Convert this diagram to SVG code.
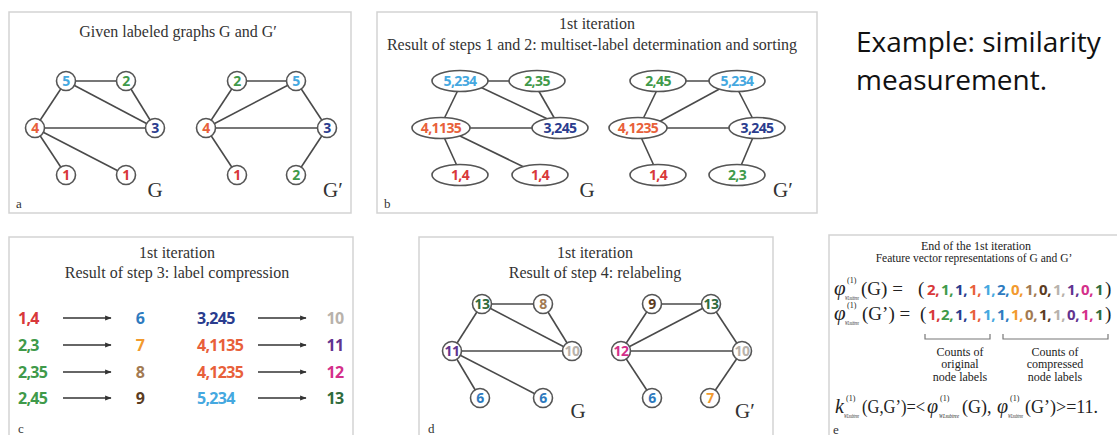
<svg xmlns="http://www.w3.org/2000/svg" width="1117" height="435" viewBox="0 0 1117 435">
  <defs>
    <marker id="arrow" viewBox="0 0 10 10" refX="9" refY="5" markerWidth="5" markerHeight="5" orient="auto">
      <path d="M0,1 L10,5 L0,9 Z" fill="#333"/>
    </marker>
  </defs>
  <style>
    .panel { fill: #fff; stroke: #d3d3d3; stroke-width: 1.5; }
    .title { font-family: "Liberation Serif", serif; font-size: 16px; fill: #333; text-anchor: middle; }
    .gname { font-family: "Liberation Serif", serif; font-size: 21px; fill: #333; text-anchor: middle; }
    .plabel { font-family: "Liberation Serif", serif; font-size: 13px; fill: #333; }
    .edge { stroke: #4a4a4a; stroke-width: 1.6; fill: none; }
    .node circle { fill: #fff; stroke: #555; stroke-width: 1.6; }
    .node ellipse { fill: #fff; stroke: #555; stroke-width: 1.6; }
    .node text, .lbl { font-family: "Open Sans", "Liberation Sans", sans-serif; font-weight: 700; text-anchor: middle; }
    .node text { font-size: 14px; letter-spacing: -0.6px; }
    .lbl { font-size: 16px; letter-spacing: -0.7px; }
    .map { stroke: #333; stroke-width: 1.3; marker-end: url(#arrow); }
    .serif { font-family: "Liberation Serif", serif; fill: #222; }
    .it { font-style: italic; }
    .sub { font-family: "Liberation Serif", serif; font-style: italic; font-size: 6px; fill: #222; }
    .vec { font-family: "Open Sans", "Liberation Sans", sans-serif; font-weight: 700; font-size: 15px; letter-spacing: -0.4px; }
    .big { font-family: "Open Sans", "Noto Sans", sans-serif; font-size: 28px; fill: #111; }
    .c1 { fill: #d8383a; } .c2 { fill: #3f9a4a; } .c3 { fill: #2a3c8e; } .c4 { fill: #e8603a; }
    .c5 { fill: #45a8e0; } .c6 { fill: #2e7bbf; } .c7 { fill: #f29a2e; } .c8 { fill: #a27a52; }
    .c9 { fill: #5b3c1f; } .c10 { fill: #b8b2ab; } .c11 { fill: #61338f; } .c12 { fill: #d42f8a; }
    .c13 { fill: #2f6b3c; }
  </style>

  <rect width="1117" height="435" fill="#fff"/>

  <!-- panel frames -->
  <rect class="panel" x="9" y="12" width="342" height="201"/>
  <rect class="panel" x="377" y="12" width="440" height="201"/>
  <rect class="panel" x="9" y="237" width="344" height="210"/>
  <rect class="panel" x="419" y="237" width="354" height="210"/>
  <rect class="panel" x="829" y="235" width="300" height="212"/>

  <text class="big" x="856" y="52">Example: similarity</text>
  <text class="big" x="856" y="90">measurement.</text>

  <!-- ===== panel a ===== -->
  <text class="title" x="178" y="37">Given labeled graphs G and G′</text>
  <g id="a-edges">
    <line class="edge" x1="66" y1="81" x2="126" y2="81"/>
    <line class="edge" x1="66" y1="81" x2="35" y2="128"/>
    <line class="edge" x1="66" y1="81" x2="155" y2="128"/>
    <line class="edge" x1="126" y1="81" x2="155" y2="128"/>
    <line class="edge" x1="35" y1="128" x2="155" y2="128"/>
    <line class="edge" x1="35" y1="128" x2="66" y2="175"/>
    <line class="edge" x1="35" y1="128" x2="126" y2="175"/>
    <line class="edge" x1="237" y1="81" x2="296" y2="81"/>
    <line class="edge" x1="237" y1="81" x2="206" y2="128"/>
    <line class="edge" x1="296" y1="81" x2="206" y2="128"/>
    <line class="edge" x1="296" y1="81" x2="327" y2="128"/>
    <line class="edge" x1="206" y1="128" x2="327" y2="128"/>
    <line class="edge" x1="206" y1="128" x2="237" y2="175"/>
    <line class="edge" x1="327" y1="128" x2="296" y2="175"/>
  </g>
  <g id="a-G-5" class="node"><circle cx="66" cy="81" r="9.5"/><text x="66" y="86" class="c5">5</text></g>
  <g id="a-G-2" class="node"><circle cx="126" cy="81" r="9.5"/><text x="126" y="86" class="c2">2</text></g>
  <g id="a-G-4" class="node"><circle cx="35" cy="128" r="9.5"/><text x="35" y="133" class="c4">4</text></g>
  <g id="a-G-3" class="node"><circle cx="155" cy="128" r="9.5"/><text x="155" y="133" class="c3">3</text></g>
  <g id="a-G-1a" class="node"><circle cx="66" cy="175" r="9.5"/><text x="66" y="180" class="c1">1</text></g>
  <g id="a-G-1b" class="node"><circle cx="126" cy="175" r="9.5"/><text x="126" y="180" class="c1">1</text></g>
  <g id="a-H-2" class="node"><circle cx="237" cy="81" r="9.5"/><text x="237" y="86" class="c2">2</text></g>
  <g id="a-H-5" class="node"><circle cx="296" cy="81" r="9.5"/><text x="296" y="86" class="c5">5</text></g>
  <g id="a-H-4" class="node"><circle cx="206" cy="128" r="9.5"/><text x="206" y="133" class="c4">4</text></g>
  <g id="a-H-3" class="node"><circle cx="327" cy="128" r="9.5"/><text x="327" y="133" class="c3">3</text></g>
  <g id="a-H-1" class="node"><circle cx="237" cy="175" r="9.5"/><text x="237" y="180" class="c1">1</text></g>
  <g id="a-H-2b" class="node"><circle cx="296" cy="175" r="9.5"/><text x="296" y="180" class="c2">2</text></g>
  <text class="gname" x="155" y="197">G</text>
  <text class="gname" x="333" y="197">G′</text>
  <text class="plabel" x="16" y="208">a</text>

  <!-- ===== panel b ===== -->
  <text class="title" x="597" y="29">1st iteration</text>
  <text class="title" x="592" y="50">Result of steps 1 and 2: multiset-label determination and sorting</text>
  <g id="b-edges">
    <line class="edge" x1="460" y1="81" x2="535" y2="81"/>
    <line class="edge" x1="459" y1="88" x2="443" y2="121"/>
    <line class="edge" x1="478" y1="86" x2="556" y2="123"/>
    <line class="edge" x1="537" y1="88" x2="556" y2="121"/>
    <line class="edge" x1="441" y1="128" x2="560" y2="128"/>
    <line class="edge" x1="443" y1="135" x2="458" y2="168"/>
    <line class="edge" x1="460" y1="136" x2="526" y2="168"/>
    <line class="edge" x1="658" y1="81" x2="737" y2="81"/>
    <line class="edge" x1="658" y1="88" x2="642" y2="121"/>
    <line class="edge" x1="725" y1="86" x2="655" y2="124"/>
    <line class="edge" x1="737" y1="88" x2="754" y2="121"/>
    <line class="edge" x1="638" y1="128" x2="757" y2="128"/>
    <line class="edge" x1="640" y1="135" x2="655" y2="168"/>
    <line class="edge" x1="754" y1="135" x2="740" y2="168"/>
  </g>
  <g id="b-G-5" class="node"><ellipse cx="460" cy="81" rx="28" ry="10.5"/><text x="460" y="86" class="c5">5,234</text></g>
  <g id="b-G-2" class="node"><ellipse cx="537" cy="81" rx="28" ry="10.5"/><text x="537" y="86" class="c2">2,35</text></g>
  <g id="b-G-4" class="node"><ellipse cx="441" cy="128" rx="29" ry="10.5"/><text x="441" y="133" class="c4">4,1135</text></g>
  <g id="b-G-3" class="node"><ellipse cx="560" cy="128" rx="28" ry="10.5"/><text x="560" y="133" class="c3">3,245</text></g>
  <g id="b-G-1a" class="node"><ellipse cx="460" cy="175" rx="28" ry="10.5"/><text x="460" y="180" class="c1">1,4</text></g>
  <g id="b-G-1b" class="node"><ellipse cx="540" cy="175" rx="28" ry="10.5"/><text x="540" y="180" class="c1">1,4</text></g>
  <g id="b-H-2" class="node"><ellipse cx="658" cy="81" rx="28" ry="10.5"/><text x="658" y="86" class="c2">2,45</text></g>
  <g id="b-H-5" class="node"><ellipse cx="737" cy="81" rx="28" ry="10.5"/><text x="737" y="86" class="c5">5,234</text></g>
  <g id="b-H-4" class="node"><ellipse cx="638" cy="128" rx="29" ry="10.5"/><text x="638" y="133" class="c4">4,1235</text></g>
  <g id="b-H-3" class="node"><ellipse cx="757" cy="128" rx="28" ry="10.5"/><text x="757" y="133" class="c3">3,245</text></g>
  <g id="b-H-1" class="node"><ellipse cx="658" cy="175" rx="28" ry="10.5"/><text x="658" y="180" class="c1">1,4</text></g>
  <g id="b-H-2b" class="node"><ellipse cx="737" cy="175" rx="28" ry="10.5"/><text x="737" y="180" class="c2">2,3</text></g>
  <text class="gname" x="587" y="197">G</text>
  <text class="gname" x="783" y="197">G′</text>
  <text class="plabel" x="384" y="208">b</text>

  <!-- ===== panel c ===== -->
  <text class="title" x="177" y="258">1st iteration</text>
  <text class="title" x="177" y="278">Result of step 3: label compression</text>
  <g id="c-maps">
    <line class="map" x1="63" y1="318" x2="111" y2="318"/>
    <line class="map" x1="63" y1="345" x2="111" y2="345"/>
    <line class="map" x1="63" y1="372" x2="111" y2="372"/>
    <line class="map" x1="63" y1="398" x2="111" y2="398"/>
    <line class="map" x1="258" y1="318" x2="306" y2="318"/>
    <line class="map" x1="258" y1="345" x2="306" y2="345"/>
    <line class="map" x1="258" y1="372" x2="306" y2="372"/>
    <line class="map" x1="258" y1="398" x2="306" y2="398"/>
  </g>
  <g id="c-left">
    <text class="lbl c1" x="18" y="324" style="text-anchor:start">1,4</text>
    <text class="lbl c2" x="18" y="351" style="text-anchor:start">2,3</text>
    <text class="lbl c2" x="18" y="378" style="text-anchor:start">2,35</text>
    <text class="lbl c2" x="18" y="404" style="text-anchor:start">2,45</text>
    <text class="lbl c3" x="197" y="324" style="text-anchor:start">3,245</text>
    <text class="lbl c4" x="197" y="351" style="text-anchor:start">4,1135</text>
    <text class="lbl c4" x="197" y="378" style="text-anchor:start">4,1235</text>
    <text class="lbl c5" x="197" y="404" style="text-anchor:start">5,234</text>
  </g>
  <g id="c-right">
    <text class="lbl c6" x="140" y="324">6</text>
    <text class="lbl c7" x="140" y="351">7</text>
    <text class="lbl c8" x="140" y="378">8</text>
    <text class="lbl c9" x="140" y="404">9</text>
    <text class="lbl c10" x="335" y="324">10</text>
    <text class="lbl c11" x="335" y="351">11</text>
    <text class="lbl c12" x="335" y="378">12</text>
    <text class="lbl c13" x="335" y="404">13</text>
  </g>
  <text class="plabel" x="18" y="433">c</text>

  <!-- ===== panel d ===== -->
  <text class="title" x="595" y="258">1st iteration</text>
  <text class="title" x="595" y="278">Result of step 4: relabeling</text>
  <g id="d-edges">
    <line class="edge" x1="482" y1="304" x2="543" y2="304"/>
    <line class="edge" x1="482" y1="304" x2="452" y2="351"/>
    <line class="edge" x1="482" y1="304" x2="572" y2="351"/>
    <line class="edge" x1="543" y1="304" x2="572" y2="351"/>
    <line class="edge" x1="452" y1="351" x2="572" y2="351"/>
    <line class="edge" x1="452" y1="351" x2="480" y2="398"/>
    <line class="edge" x1="452" y1="351" x2="543" y2="398"/>
    <line class="edge" x1="652" y1="304" x2="711" y2="304"/>
    <line class="edge" x1="652" y1="304" x2="621" y2="351"/>
    <line class="edge" x1="711" y1="304" x2="621" y2="351"/>
    <line class="edge" x1="711" y1="304" x2="742" y2="351"/>
    <line class="edge" x1="621" y1="351" x2="742" y2="351"/>
    <line class="edge" x1="621" y1="351" x2="652" y2="398"/>
    <line class="edge" x1="742" y1="351" x2="710" y2="398"/>
  </g>
  <g id="d-G-13" class="node"><circle cx="482" cy="304" r="9.5"/><text x="482" y="309" class="c13">13</text></g>
  <g id="d-G-8" class="node"><circle cx="543" cy="304" r="9.5"/><text x="543" y="309" class="c8">8</text></g>
  <g id="d-G-11" class="node"><circle cx="452" cy="351" r="9.5"/><text x="452" y="356" class="c11">11</text></g>
  <g id="d-G-10" class="node"><circle cx="572" cy="351" r="9.5"/><text x="572" y="356" class="c10">10</text></g>
  <g id="d-G-6a" class="node"><circle cx="480" cy="398" r="9.5"/><text x="480" y="403" class="c6">6</text></g>
  <g id="d-G-6b" class="node"><circle cx="543" cy="398" r="9.5"/><text x="543" y="403" class="c6">6</text></g>
  <g id="d-H-9" class="node"><circle cx="652" cy="304" r="9.5"/><text x="652" y="309" class="c9">9</text></g>
  <g id="d-H-13" class="node"><circle cx="711" cy="304" r="9.5"/><text x="711" y="309" class="c13">13</text></g>
  <g id="d-H-12" class="node"><circle cx="621" cy="351" r="9.5"/><text x="621" y="356" class="c12">12</text></g>
  <g id="d-H-10" class="node"><circle cx="742" cy="351" r="9.5"/><text x="742" y="356" class="c10">10</text></g>
  <g id="d-H-6" class="node"><circle cx="652" cy="398" r="9.5"/><text x="652" y="403" class="c6">6</text></g>
  <g id="d-H-7" class="node"><circle cx="710" cy="398" r="9.5"/><text x="710" y="403" class="c7">7</text></g>
  <text class="gname" x="578" y="418">G</text>
  <text class="gname" x="745" y="418">G′</text>
  <text class="plabel" x="428" y="433">d</text>

  <!-- ===== panel e ===== -->
  <text class="serif" x="976" y="250" font-size="12" text-anchor="middle">End of  the 1st iteration</text>
  <text class="serif" x="974" y="262" font-size="11.5" text-anchor="middle">Feature vector representations of G and G’</text>

  <!-- phi(G) -->
  <text class="serif it" x="834" y="295" font-size="21">φ</text>
  <text class="serif" x="847" y="283" font-size="8">(1)</text>
  <text class="sub" x="845" y="300" textLength="14" lengthAdjust="spacingAndGlyphs">WLsubtree</text>
  <text class="serif" x="861" y="295" font-size="19">(G) =</text>
  <text class="serif" x="918" y="295" font-size="19">(</text>
  <g class="vec">
    <text x="927" y="295" class="c1">2,</text>
    <text x="941" y="295" class="c2">1,</text>
    <text x="955" y="295" class="c3">1,</text>
    <text x="969" y="295" class="c4">1,</text>
    <text x="983" y="295" class="c5">1,</text>
    <text x="997" y="295" class="c6">2,</text>
    <text x="1011" y="295" class="c7">0,</text>
    <text x="1025" y="295" class="c8">1,</text>
    <text x="1039" y="295" class="c9">0,</text>
    <text x="1053" y="295" class="c10">1,</text>
    <text x="1067" y="295" class="c11">1,</text>
    <text x="1081" y="295" class="c12">0,</text>
    <text x="1095" y="295" class="c13">1</text>
  </g>
  <text class="serif" x="1105" y="295" font-size="19">)</text>

  <!-- phi(G') -->
  <text class="serif it" x="834" y="320" font-size="21">φ</text>
  <text class="serif" x="847" y="308" font-size="8">(1)</text>
  <text class="sub" x="845" y="325" textLength="14" lengthAdjust="spacingAndGlyphs">WLsubtree</text>
  <text class="serif" x="862" y="320" font-size="19">(G’) =</text>
  <text class="serif" x="920" y="320" font-size="19">(</text>
  <g class="vec">
    <text x="928" y="320" class="c1">1,</text>
    <text x="941" y="320" class="c2">2,</text>
    <text x="955" y="320" class="c3">1,</text>
    <text x="969" y="320" class="c4">1,</text>
    <text x="983" y="320" class="c5">1,</text>
    <text x="997" y="320" class="c6">1,</text>
    <text x="1011" y="320" class="c7">1,</text>
    <text x="1025" y="320" class="c8">0,</text>
    <text x="1039" y="320" class="c9">1,</text>
    <text x="1053" y="320" class="c10">1,</text>
    <text x="1067" y="320" class="c11">0,</text>
    <text x="1081" y="320" class="c12">1,</text>
    <text x="1095" y="320" class="c13">1</text>
  </g>
  <text class="serif" x="1105" y="320" font-size="19">)</text>

  <!-- braces under the vector -->
  <path d="M925,334 V339 H990 V334 M1003,334 V339 H1108 V334" fill="none" stroke="#777" stroke-width="1.2"/>
  <g class="serif" font-size="12" text-anchor="middle">
    <text x="960" y="356">Counts of</text>
    <text x="960" y="368">original</text>
    <text x="960" y="381">node labels</text>
    <text x="1055" y="356">Counts of</text>
    <text x="1055" y="368">compressed</text>
    <text x="1055" y="381">node labels</text>
  </g>

  <!-- kernel value -->
  <text class="serif it" x="835" y="413" font-size="20">k</text>
  <text class="serif" x="846" y="401" font-size="8">(1)</text>
  <text class="sub" x="844" y="418" textLength="15" lengthAdjust="spacingAndGlyphs">WLsubtree</text>
  <text class="serif" x="862" y="413" font-size="18" textLength="63" lengthAdjust="spacingAndGlyphs">(G,G’)=&lt;</text>
  <text class="serif it" x="927" y="413" font-size="20">φ</text>
  <text class="serif" x="940" y="401" font-size="8">(1)</text>
  <text class="sub" x="939" y="418" textLength="20" lengthAdjust="spacingAndGlyphs">WLsubtree</text>
  <text class="serif" x="962" y="413" font-size="18">(G),</text>
  <text class="serif it" x="997" y="413" font-size="20">φ</text>
  <text class="serif" x="1010" y="401" font-size="8">(1)</text>
  <text class="sub" x="1008" y="418" textLength="15" lengthAdjust="spacingAndGlyphs">WLsubtree</text>
  <text class="serif" x="1025" y="413" font-size="18">(G’)&gt;=11.</text>
  <text class="plabel" x="833" y="434">e</text>
</svg>
